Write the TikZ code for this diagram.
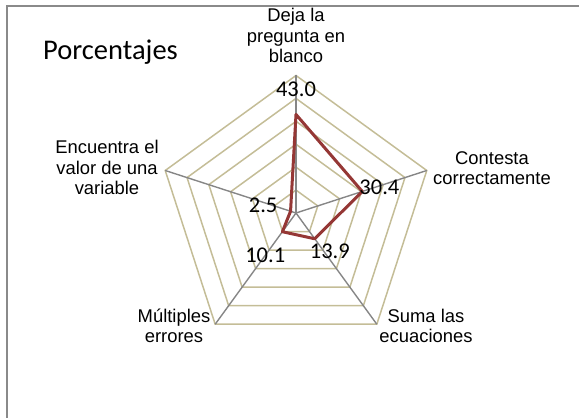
\documentclass[tikz,border=0pt]{standalone}
\usepackage{fontspec}
\setmainfont{Liberation Sans}
\newfontfamily\calibri{Carlito}
\usetikzlibrary{positioning}
\definecolor{ringtan}{HTML}{C4BD97}
\definecolor{spokegray}{HTML}{868686}
\definecolor{seriered}{HTML}{953735}
\definecolor{framegray}{HTML}{8A8A8A}
\begin{document}
\begin{tikzpicture}[x=1pt, y=1pt,
    ring/.style={draw=ringtan, line width=1.5pt},
    spoke/.style={draw=spokegray, line width=1.4pt},
    serie/.style={draw=seriered, line width=3pt, line join=round},
    cat/.style={align=center, inner sep=0pt, font=\fontsize{18.4}{20.5}\selectfont},
    num/.style={inner sep=0pt, font=\calibri\fontsize{22.5}{24}\selectfont}]
    \useasboundingbox (0,0) rectangle (579,418);
    \draw[framegray, line width=2pt] (7,0) -- (7,412) -- (579,412);

    \coordinate (c) at (296,205);
    \foreach \i/\a in {1/90, 2/18, 3/-54, 4/-126, 5/162}
        \coordinate (v\i) at ([shift={(\a:137.5)}]c);

    % grid rings 10 .. 60
    \foreach \k [evaluate=\k as \r using \k*137.5/6] in {1,...,6}
        \draw[ring] ([shift={(90:\r)}]c) -- ([shift={(18:\r)}]c) -- ([shift={(-54:\r)}]c)
            -- ([shift={(-126:\r)}]c) -- ([shift={(162:\r)}]c) -- cycle;
    \foreach \i in {1,...,5}
        \draw[spoke] (c) -- (v\i);

    % data
    \foreach \i/\a/\v in {1/90/43.0, 2/18/30.4, 3/-54/13.9, 4/-126/10.1, 5/162/2.5}
        \coordinate (d\i) at ([shift={(\a:{\v*137.5/60})}]c);
    \draw[serie] (d1) -- (d2) -- (d3) -- (d4) -- (d5) -- cycle;

    \node[num, above=18pt of d1] (n1) {43.0};
    \node[num, anchor=base west] (n2) at ([shift={(-3,-3)}]d2) {30.4};
    \node[num, anchor=base west] (n3) at ([shift={(-5,-20)}]d3) {13.9};
    \node[num, anchor=base east] (n4) at ([shift={(3,-31)}]d4) {10.1};
    \node[num, anchor=base east] (n5) at ([shift={(-13,-1)}]d5) {2.5};

    \node[anchor=base west, inner sep=0pt, font=\calibri\fontsize{28.5}{30}\selectfont] (title) at (43,358) {Porcentajes};

    % base = last line
    \node[cat, anchor=base] (c1) at (296,355) {Deja la\\pregunta en\\blanco};
    \node[cat, anchor=base] (c2) at (492,233) {Contesta\\correctamente};
    \node[cat, anchor=base] (c3) at (426,75) {Suma las\\ecuaciones};
    \node[cat, anchor=base] (c4) at (174,75) {Múltiples\\errores};
    \node[cat, anchor=base] (c5) at (107,223) {Encuentra el\\valor de una\\variable};
\end{tikzpicture}
\end{document}
